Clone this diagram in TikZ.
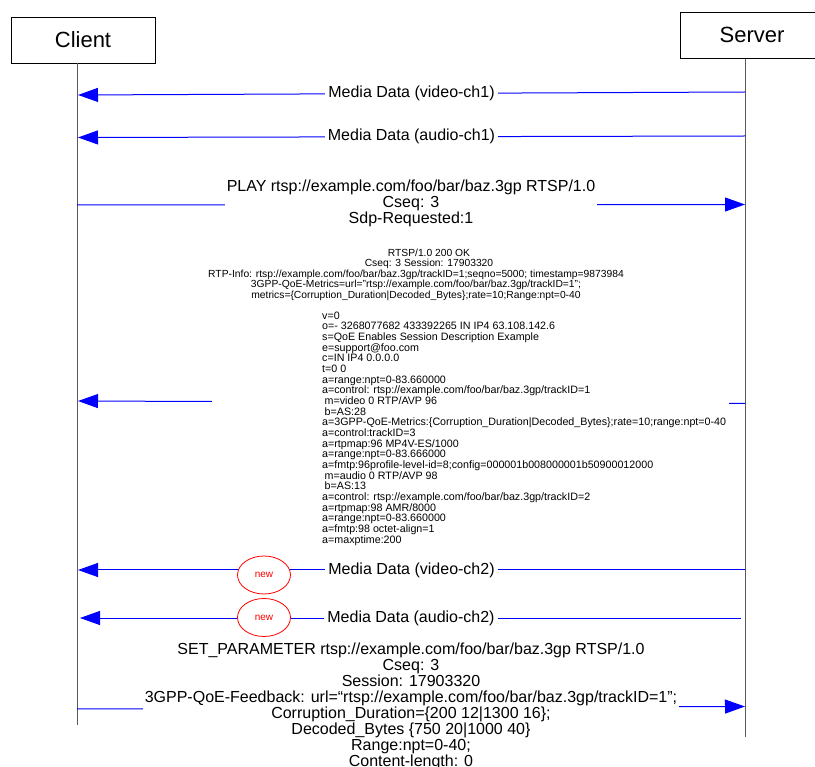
\documentclass[tikz,border=0pt]{standalone}
\usepackage{fontspec}
\setmainfont{Liberation Sans}
\usetikzlibrary{arrows.meta,shapes.geometric}
\begin{document}
\begin{tikzpicture}[x=1pt,y=-1pt,
  actor/.style={draw=black, line width=0.8pt, fill=white, minimum width=144pt, minimum height=46pt, inner sep=0pt, font=\fontsize{22}{22}\selectfont},
  life/.style={draw=black!65, line width=1pt},
  msg/.style={blue, line width=1pt, -{Triangle[length=20pt,width=14pt]}},
  lbl/.style={fill=white, inner xsep=3pt, inner ysep=1pt, font=\fontsize{16}{16}\selectfont},
  big/.style={fill=white, inner xsep=2pt, inner ysep=0pt, align=center, font=\fontsize{16}{16}\selectfont},
  small/.style={inner sep=0pt, font=\fontsize{10.7}{10.5}\selectfont},
  newmark/.style={ellipse, draw=red, line width=0.8pt, fill=white, text=red, minimum width=53pt, minimum height=38pt, inner sep=0pt, font=\fontsize{10}{10}\selectfont}
]
\useasboundingbox (0,0) rectangle (815,767);

% actors
\node[actor] (cli) at (83,40) {Client};
\node[actor] (srv) at (752,35.25) {Server};

% lifeline end points
\coordinate (cE) at (77,725);
\coordinate (sE) at (745,737);
\draw[life] (cli.south -| cE) -- (cE);
\draw[life] (srv.south -| sE) -- (sE);

% message anchor points on lifelines
\coordinate (s1) at (745,92);   \coordinate (c1) at (78,95);
\coordinate (s2) at (745,136);  \coordinate (c2) at (78,137.5);
\coordinate (c3) at (77,205);   \coordinate (s3) at (745,204.5);
\coordinate (s4) at (745,403.5);\coordinate (c4) at (78,401);
\coordinate (s5) at (745,570);  \coordinate (c5) at (78,570);
\coordinate (s6) at (741,618);  \coordinate (c6) at (80,618);
\coordinate (c7) at (77,709);   \coordinate (s7) at (745,706.5);

% connectors
\draw[msg] (s1) -- (c1);
\draw[msg] (s2) -- (c2);
\draw[msg] (c3) -- (s3);
\draw[msg] (s4) -- (c4);
\draw[msg] (s5) -- (c5);
\draw[msg] (s6) -- (c6);
\draw[msg] (c7) -- (s7);

% labels
\node[lbl] (l1) at (411.5,93.5) {Media Data (video-ch1)};
\node[lbl] (l2) at (411.5,136.5) {Media Data (audio-ch1)};
\node[big] (play) at (411,203) {PLAY rtsp://example.com/foo/bar/baz.3gp RTSP/1.0\\Cseq: 3\\Sdp-Requested:1};

\node[fill=white, inner sep=0pt, minimum width=517pt, minimum height=301pt] (okbox) at (470.5,396.5) {};
\node[small, align=center, font=\fontsize{10.3}{10.5}\selectfont] (okhdr) at (416,274.5) {\hspace*{26pt}RTSP/1.0 200 OK\\\hspace*{26pt}Cseq: 3 Session: 17903320\\RTP-Info: rtsp://example.com/foo/bar/baz.3gp/trackID=1;seqno=5000; timestamp=9873984\\3GPP-QoE-Metrics=url="rtsp://example.com/foo/bar/baz.3gp/trackID=1";\\metrics=\{Corruption\_Duration\textbar Decoded\_Bytes\};rate=10;Range:npt=0-40};
\node[small, align=left, anchor=west, font=\fontsize{10.7}{10.67}\selectfont] (oksdp) at (322,428.5) {v=0\\
o=- 3268077682 433392265 IN IP4 63.108.142.6\\
s=QoE Enables Session Description Example\\
e=support@foo.com\\
c=IN IP4 0.0.0.0\\
t=0 0\\
a=range:npt=0-83.660000\\
a=control: rtsp://example.com/foo/bar/baz.3gp/trackID=1\\
\hspace*{2.5pt}m=video 0 RTP/AVP 96\\
\hspace*{2.5pt}b=AS:28\\
a=3GPP-QoE-Metrics:\{Corruption\_Duration\textbar Decoded\_Bytes\};rate=10;range:npt=0-40\\
a=control:trackID=3\\
a=rtpmap:96 MP4V-ES/1000\\
a=range:npt=0-83.666000\\
a=fmtp:96profile-level-id=8;config=000001b008000001b50900012000\\
\hspace*{2.5pt}m=audio 0 RTP/AVP 98\\
\hspace*{2.5pt}b=AS:13\\
a=control: rtsp://example.com/foo/bar/baz.3gp/trackID=2\\
a=rtpmap:98 AMR/8000\\
a=range:npt=0-83.660000\\
a=fmtp:98 octet-align=1\\
a=maxptime:200};

\node[lbl] (l5) at (411.5,570.5) {Media Data (video-ch2)};
\node[lbl] (l6) at (411,618) {Media Data (audio-ch2)};
\node[newmark] (n5) at (264,575) {new};
\node[newmark] (n6) at (264,617.5) {new};

\node[big] (setp) at (411,706.5) {SET\_PARAMETER rtsp://example.com/foo/bar/baz.3gp RTSP/1.0\\Cseq: 3\\Session: 17903320\\3GPP-QoE-Feedback: url=“rtsp://example.com/foo/bar/baz.3gp/trackID=1”;\\Corruption\_Duration=\{200 12\textbar 1300 16\};\\Decoded\_Bytes \{750 20\textbar 1000 40\}\\Range:npt=0-40;\\Content-length: 0};
\end{tikzpicture}
\end{document}
